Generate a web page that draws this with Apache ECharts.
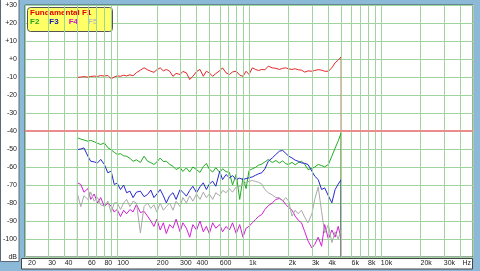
<!DOCTYPE html>
<html><head><meta charset="utf-8">
<script src="https://cdn.jsdelivr.net/npm/echarts@6/dist/echarts.min.js"></script>
<style>html,body{margin:0;padding:0;background:#8cb9d7}#c{width:480px;height:271px}</style>
</head><body><div id="c"></div><script>
const freq = [
  50,53,56,60,63,67,71,75,80,85,
  90,95,100,106,112,118,125,132,140,150,
  160,170,180,190,200,212,224,236,250,265,
  280,300,315,335,355,375,400,425,450,475,
  500,530,560,600,630,670,710,750,800,850,
  900,950,1000,1060,1120,1180,1250,1320,1400,1500,
  1600,1700,1800,1900,2000,2120,2240,2360,2500,2650,
  2800,3000,3150,3350,3550,3750,4000,4250,4500,4750,
  5000];
const f1 = [
  -10.2,-10.0,-9.8,-10.1,-9.7,-9.5,-9.7,-9.2,-9.5,-9.1,
  -11.0,-10.0,-9.4,-9.6,-9.0,-9.4,-8.8,-9.3,-7.6,-6.2,
  -4.9,-6.0,-6.8,-7.4,-6.0,-4.9,-6.6,-5.8,-6.8,-9.6,
  -8.0,-8.6,-6.9,-7.7,-11.4,-9.6,-7.0,-5.8,-9.6,-6.8,
  -7.7,-9.6,-8.1,-6.5,-4.9,-7.7,-8.6,-7.2,-6.8,-9.0,
  -9.6,-6.8,-8.6,-4.9,-5.8,-6.4,-5.8,-6.0,-4.0,-4.9,
  -5.2,-5.8,-5.2,-4.9,-5.5,-5.8,-5.4,-6.0,-6.2,-7.3,
  -6.6,-6.8,-6.4,-5.9,-6.2,-6.8,-6.8,-4.9,-2.1,-0.6,
  1.2];
const f2 = [
  -43.8,-44.5,-45.0,-45.7,-45.2,-46.0,-46.8,-47.5,-46.6,-49.3,
  -50.5,-51.8,-53.0,-52.6,-53.8,-54.0,-55.2,-56.8,-56.0,-57.5,
  -54.0,-56.8,-57.6,-58.6,-57.2,-55.0,-57.0,-56.8,-58.5,-59.6,
  -61.4,-60.2,-62.5,-60.5,-62.8,-60.0,-61.5,-63.0,-59.8,-58.0,
  -61.2,-62.8,-60.4,-63.0,-61.0,-62.6,-63.0,-70.0,-64.0,-78.0,
  -66.0,-72.0,-62.0,-61.0,-60.2,-59.0,-58.4,-57.2,-55.8,-57.5,
  -56.4,-57.8,-56.6,-58.2,-58.6,-57.4,-58.8,-57.6,-56.8,-58.5,
  -61.4,-60.8,-60.0,-58.6,-59.2,-59.9,-58.6,-54.0,-49.5,-45.5,
  -41.0];
const f3 = [
  -50.3,-50.0,-49.4,-54.0,-56.8,-57.2,-57.7,-55.8,-58.6,-63.2,
  -62.3,-69.7,-69.0,-72.5,-70.0,-74.3,-73.4,-77.0,-74.0,-73.4,
  -76.5,-75.3,-72.8,-77.0,-75.0,-72.5,-76.0,-79.9,-76.0,-74.3,
  -78.0,-72.5,-74.0,-76.2,-73.0,-70.7,-74.3,-71.0,-68.8,-72.5,
  -69.5,-67.9,-70.7,-62.3,-67.0,-64.2,-66.0,-64.8,-67.0,-66.2,
  -67.0,-66.4,-66.0,-65.5,-64.6,-63.8,-63.2,-61.0,-56.8,-55.0,
  -53.0,-51.2,-50.8,-52.4,-54.0,-55.0,-56.2,-56.8,-57.7,-58.0,
  -58.6,-62.3,-65.1,-67.0,-72.5,-71.6,-76.0,-79.9,-72.5,-69.5,
  -67.0];
const f4 = [
  -68.8,-69.7,-74.0,-72.0,-78.0,-75.0,-80.0,-77.0,-82.0,-80.0,
  -81.8,-85.0,-83.6,-87.5,-84.0,-86.0,-83.6,-85.0,-80.8,-85.3,
  -84.6,-87.3,-90.0,-93.0,-89.0,-95.0,-91.0,-97.0,-92.0,-94.0,
  -89.0,-96.0,-91.0,-94.0,-99.0,-92.0,-95.0,-90.0,-96.0,-93.0,
  -97.0,-91.0,-94.0,-92.0,-96.0,-93.0,-95.0,-91.0,-97.0,-92.0,
  -99.0,-94.0,-93.0,-91.0,-89.2,-87.5,-86.4,-83.6,-81.5,-80.0,
  -78.0,-77.5,-78.5,-80.8,-82.5,-84.0,-87.3,-89.5,-91.0,-96.0,
  -101.0,-105.0,-103.0,-99.0,-104.0,-92.0,-100.0,-95.0,-99.0,-93.0,
  -100.0];
const f5 = [
  -75.0,-82.0,-76.0,-78.0,-74.0,-79.0,-77.0,-81.0,-81.8,-79.0,
  -85.4,-80.0,-79.9,-83.6,-80.0,-78.0,-82.0,-79.0,-80.0,-96.6,
  -82.0,-80.0,-83.0,-81.0,-85.0,-80.0,-84.0,-82.0,-80.0,-84.0,
  -79.0,-82.0,-77.0,-80.0,-76.0,-79.0,-75.0,-78.0,-74.0,-77.0,
  -75.0,-78.0,-74.3,-76.0,-73.0,-74.3,-72.0,-74.0,-71.0,-70.7,
  -70.0,-68.5,-68.0,-67.5,-68.0,-68.5,-69.5,-72.5,-74.3,-75.5,
  -77.0,-77.0,-79.0,-77.0,-79.0,-87.3,-84.0,-86.0,-84.0,-88.0,
  -91.0,-86.0,-78.0,-71.0,-84.7,-96.6,-92.0,-102.0,-96.0,-100.0,
  -95.0];

const seriesNames = ['Fundamental F1','F2','F3','F4','F5'];
const seriesColors = ['#e02828','#22aa22','#2626d0','#d41ed4','#a8a8a8'];
const legendColors = ['#e00000','#1fa81f','#1a1ab8','#d010d0','#bdbdbd'];
const xGridValues = [20,30,40,50,60,70,80,90,100,200,300,400,500,600,700,800,900,
  1000,2000,3000,4000,5000,6000,7000,8000,9000,10000,20000,30000,40000,50000];
const xTickValues = [20,30,40,60,80,100,200,300,400,600,1000,2000,3000,4000,6000,8000,10000,20000,30000];
const xTickLabels = ['20','30','40','60','80','100','200','300','400','600','1k','2k','3k','4k','6k','8k','10k','20k','30k'];
const xMin = 20, xMax = 50000;
const yMin = -110, yMax = 30, yStep = 10;
const threshold = -40;

const valuesList = [f1,f2,f3,f4,f5];
function toData(vals){
  const d = [[freq[0], yMin]];
  for (let i = 0; i < freq.length; i++) d.push([freq[i], vals[i]]);
  d.push([freq[freq.length-1], yMin]);
  return d;
}
const gridColor = '#9fd49f';
const lblStyle = {fontSize:7, color:'#222', fontFamily:'Liberation Sans'};
const gridMarks = xGridValues.map(v => {
  const k = xTickValues.indexOf(v);
  const item = {xAxis: v, lineStyle:{color:gridColor, width:1, type:'solid'}};
  if (k >= 0) {
    item.label = Object.assign({show:true, position:'start', distance:3, align:'left',
      formatter: xTickLabels[k], padding: v === 20 ? [0,0,0,3] : 0}, lblStyle);
  } else if (v === xMax) {
    item.label = Object.assign({show:true, position:'start', distance:3, align:'right',
      formatter:'Hz', padding:[0,2,0,0]}, lblStyle);
  } else {
    item.label = {show:false};
  }
  return item;
});
gridMarks.push({yAxis: threshold, lineStyle:{color:'#ea8c8c', width:2, type:'solid'}, label:{show:false}});

const series = [{
  name:'grid', type:'line', data:[], clip:false, silent:true,
  markLine:{silent:true, symbol:'none', animation:false, data: gridMarks}
}];
valuesList.forEach((vals, i) => {
  series.push({
    name: seriesNames[i], type:'line', data: toData(vals), showSymbol:false,
    lineStyle:{color: seriesColors[i], width:1}, itemStyle:{color: seriesColors[i]},
    animation:false, silent:true
  });
});

const chart = echarts.init(document.getElementById('c'), null, {renderer:'canvas'});
chart.setOption({
  backgroundColor:'#8cb9d7',
  animation:false,
  graphic:[
    {type:'rect', z:-1, shape:{x:0.5,y:-1,width:18.5,height:262.5}, style:{fill:'#ffffff', stroke:'#5a6a78', lineWidth:1}},
    {type:'rect', z:-1, shape:{x:21.5,y:258.5,width:451,height:10.5}, style:{fill:'#ffffff', stroke:'#444', lineWidth:1}},
    {type:'rect', z:3, shape:{x:27.5,y:7.5,width:85,height:24,r:3}, style:{fill:'#ffff66', stroke:'#555', lineWidth:1}}
  ],
  grid:{left:23, top:5, width:450, height:252, show:true, backgroundColor:'#ffffff', borderColor:'#3c5548', borderWidth:1},
  legend:[
    {data:[{name:'Fundamental F1', textStyle:{color:legendColors[0]}}], left:25, top:8.5, icon:'none',
     itemWidth:0, itemHeight:8, padding:0, selectedMode:false, z:5,
     textStyle:{fontSize:8, fontWeight:'bold', fontFamily:'Liberation Sans'}},
    {data:seriesNames.slice(1).map((n,i)=>({name:n, textStyle:{color:legendColors[i+1]}})), left:25, top:18, icon:'none',
     itemWidth:0, itemHeight:8, itemGap:5, padding:0, selectedMode:false, z:5,
     textStyle:{fontSize:8, fontWeight:'bold', fontFamily:'Liberation Sans'}}
  ],
  xAxis:{type:'log', logBase:10, min:xMin, max:xMax, axisLabel:{show:false}, axisTick:{show:false},
    axisLine:{show:false}, splitLine:{show:false}, minorSplitLine:{show:false}},
  yAxis:{type:'value', min:yMin, max:yMax, interval:yStep,
    axisLine:{show:false}, axisTick:{show:false},
    splitLine:{lineStyle:{color:gridColor, width:1}},
    axisLabel:{margin:8, fontSize:7, color:'#222', fontFamily:'Liberation Sans', showMinLabel:true, showMaxLabel:true,
      formatter: v => v === yMin ? 'dB' : (v >= 0 ? '+' + v : String(v))}},
  series: series
});
</script></body></html>
